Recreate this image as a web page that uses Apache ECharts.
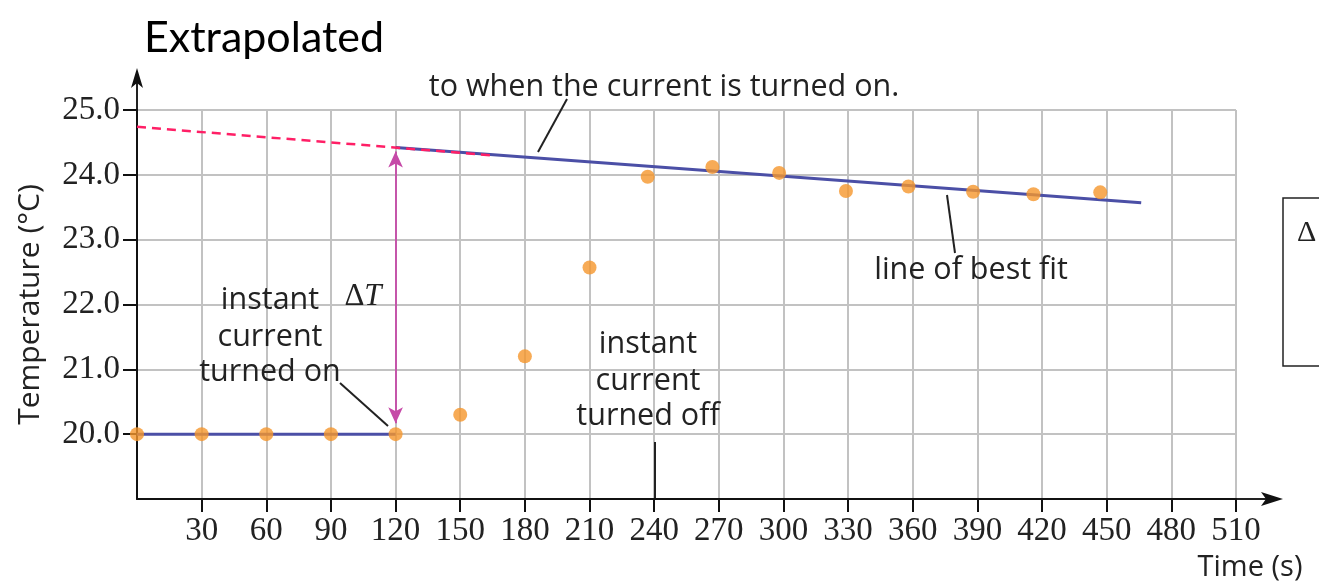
<!DOCTYPE html>
<html>
<head>
<meta charset="utf-8">
<script src="https://cdn.jsdelivr.net/npm/echarts@6/dist/echarts.min.js"></script>
<style>
html,body{margin:0;padding:0;background:#fff;}
#c{width:1319px;height:583px;}
</style>
</head>
<body>
<div id="c"></div>
<script>
// ---- data ----
const times = [0, 30, 60, 90, 120, 150, 180, 210, 237, 267, 298, 329, 358, 388, 416, 447];
const temps = [20.0, 20.0, 20.0, 20.0, 20.0, 20.3, 21.2, 22.57, 23.97, 24.12, 24.03, 23.75, 23.82, 23.74, 23.70, 23.73];
const flatX = [0, 120];
const flatY = [20.0, 20.0];
const fitX = [120, 466];
const fitY = [24.42, 23.57];
const extrapX = [0, 165];
const extrapY = [24.74, 24.30];
const deltaX = 120;
const deltaY = [24.36, 20.17];
const xTicks = [30, 60, 90, 120, 150, 180, 210, 240, 270, 300, 330, 360, 390, 420, 450, 480, 510];
const yTicks = [20, 21, 22, 23, 24, 25];

const pairs = (xs, ys) => xs.map((x, i) => [x, ys[i]]);

const chart = echarts.init(document.getElementById('c'));
const serif = '"Liberation Serif", "DejaVu Serif", serif';
const sans = '"Open Sans", "Noto Sans", sans-serif';
const textCol = '#222';
const annSize = 30.5;

chart.setOption({
  animation: false,
  backgroundColor: '#fff',
  grid: { left: 137, right: 83, top: 110, bottom: 84, containLabel: false, outerBoundsMode: 'none' },
  xAxis: {
    type: 'value', min: 0, max: 510, interval: 30,
    axisLine: { show: true, lineStyle: { color: '#111', width: 2 } },
    axisTick: { show: true, length: 13, customValues: xTicks, lineStyle: { color: '#111', width: 2 } },
    axisLabel: { customValues: xTicks, margin: 16, fontFamily: serif, fontSize: 33, color: textCol },
    splitLine: { show: true, lineStyle: { color: '#c2c2c2', width: 2 } }
  },
  yAxis: {
    type: 'value', min: 19, max: 25, interval: 1,
    name: 'Temperature (°C)', nameLocation: 'middle', nameGap: 92,
    nameTextStyle: { fontFamily: sans, fontSize: 30, color: textCol },
    axisLine: { show: true, lineStyle: { color: '#111', width: 2 } },
    axisTick: { show: true, length: 14, customValues: yTicks, lineStyle: { color: '#111', width: 2 } },
    axisLabel: { customValues: yTicks, margin: 17, fontFamily: serif, fontSize: 33, color: textCol,
      formatter: v => v.toFixed(1) },
    splitLine: { show: true, lineStyle: { color: '#c2c2c2', width: 2 } }
  },
  series: [
    { type: 'line', data: pairs(flatX, flatY), symbol: 'none',
      lineStyle: { color: '#4b4fa6', width: 3 }, z: 3 },
    { type: 'line', data: pairs(fitX, fitY), symbol: 'none',
      lineStyle: { color: '#4b4fa6', width: 3 }, z: 3 },
    { type: 'line', data: pairs(extrapX, extrapY), symbol: 'none', clip: false,
      lineStyle: { color: '#ff1f66', width: 2.5, type: [9, 6] }, z: 4 },
    { type: 'line', data: [], symbol: 'none', z: 5,
      markLine: { silent: true, symbol: ['arrow', 'arrow'], symbolSize: [11, 16], label: { show: false },
        lineStyle: { color: '#c64aa8', width: 1.8, type: 'solid' },
        data: [[{ coord: [deltaX, deltaY[0]] }, { coord: [deltaX, deltaY[1]] }]] } },
    { type: 'scatter', data: pairs(times, temps), symbolSize: 14,
      itemStyle: { color: '#f5962c' }, z: 6 }
  ]
});

const p0 = chart.convertToPixel({ gridIndex: 0 }, [0, 19]);
const p1 = chart.convertToPixel({ gridIndex: 0 }, [510, 25]);
const ax = p0[0], ay = p0[1], rx = p1[0], ty = p1[1];
const xTip = rx + 47, yTip = ty - 42;

const txt = (x, y, s, size, extra) => ({
  type: 'text', x: x, y: y,
  style: Object.assign({ text: s, fontFamily: sans, fontSize: size, fill: textCol, align: 'center', verticalAlign: 'middle' }, extra || {})
});
const seg = (x1, y1, x2, y2, w) => ({ type: 'line', shape: { x1, y1, x2, y2 }, style: { stroke: '#222', lineWidth: w || 2 } });

chart.setOption({
  graphic: [
    // axis extensions & arrows
    seg(rx, ay, xTip - 10, ay, 2),
    { type: 'polygon', shape: { points: [[xTip, ay], [xTip - 22, ay - 7], [xTip - 17, ay], [xTip - 22, ay + 7]] }, style: { fill: '#111' } },
    seg(ax, ty, ax, yTip + 10, 2),
    { type: 'polygon', shape: { points: [[ax, yTip], [ax - 6, yTip + 20], [ax, yTip + 15], [ax + 6, yTip + 20]] }, style: { fill: '#111' } },
    // title
    txt(264, 38, 'Extrapolated', 43, { fontFamily: 'Lato, "Open Sans", sans-serif', fill: '#000' }),
    // annotations
    txt(664, 87, 'to when the current is turned on.', annSize),
    seg(567, 99, 538, 152, 2),
    txt(971, 270, 'line of best fit', annSize),
    seg(947, 195, 955, 253, 2),
    txt(270, 300, 'instant', annSize),
    txt(270, 337, 'current', annSize),
    txt(270, 372, 'turned on', annSize),
    seg(340, 383, 388, 426, 2),
    txt(648, 344, 'instant', annSize),
    txt(648, 381, 'current', annSize),
    txt(648, 416, 'turned off', annSize),
    seg(655, 442, 655, 499, 2),
    { type: 'text', x: 363, y: 297, style: { rich: { d: { fontFamily: serif, fontSize: 31, fill: textCol }, t: { fontFamily: serif, fontStyle: 'italic', fontSize: 31, fill: textCol } }, text: '{d|Δ}{t|T}', align: 'center', verticalAlign: 'middle' } },
    txt(1250, 568, 'Time (s)', 29),
    // right box
    { type: 'rect', shape: { x: 1283, y: 198, width: 80, height: 168 }, style: { fill: 'none', stroke: '#222', lineWidth: 1.5 } },
    { type: 'text', x: 1297, y: 233, style: { text: 'Δ', fontFamily: serif, fontSize: 30, fill: textCol, align: 'left', verticalAlign: 'middle' } }
  ]
});
</script>
</body>
</html>
